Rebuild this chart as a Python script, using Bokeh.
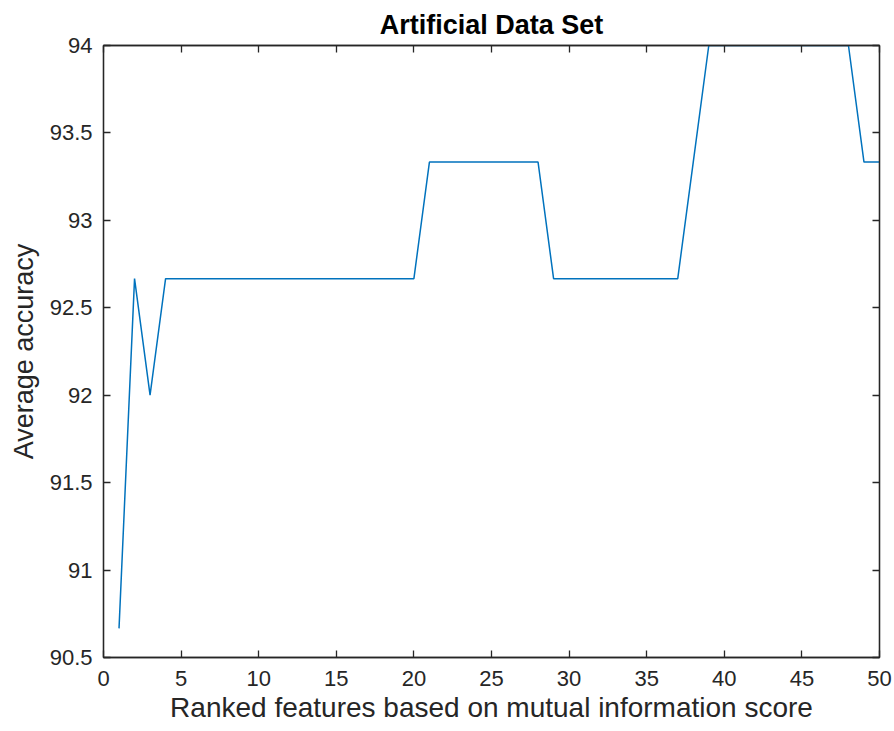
from bokeh.plotting import figure
from bokeh.models import Range1d, FixedTicker, LinearAxis
from bokeh.embed import file_html
from bokeh.resources import INLINE

# Number of top-ranked features used
n_features = list(range(1, 51))

# Average classification accuracy (%) for each feature count
avg_accuracy = [
    90.6667, 92.6667, 92.0000, 92.6667, 92.6667, 92.6667, 92.6667, 92.6667, 92.6667, 92.6667,
    92.6667, 92.6667, 92.6667, 92.6667, 92.6667, 92.6667, 92.6667, 92.6667, 92.6667, 92.6667,
    93.3333, 93.3333, 93.3333, 93.3333, 93.3333, 93.3333, 93.3333, 93.3333, 92.6667, 92.6667,
    92.6667, 92.6667, 92.6667, 92.6667, 92.6667, 92.6667, 92.6667, 93.3333, 94.0000, 94.0000,
    94.0000, 94.0000, 94.0000, 94.0000, 94.0000, 94.0000, 94.0000, 94.0000, 93.3333, 93.3333,
]

x_ticks = [0, 5, 10, 15, 20, 25, 30, 35, 40, 45, 50]
y_ticks = [90.5, 91.0, 91.5, 92.0, 92.5, 93.0, 93.5, 94.0]
y_tick_labels = ["90.5", "91", "91.5", "92", "92.5", "93", "93.5", "94"]

FONT = "Liberation Sans"
DARK = "#262626"

p = figure(
    width=894, height=731,
    x_range=Range1d(0, 50), y_range=Range1d(90.5, 94),
    output_backend="svg", toolbar_location=None,
    min_border_left=103, min_border_right=15,
    min_border_top=45, min_border_bottom=74,
    title="Artificial Data Set",
)
p.title.align = "center"
p.title.text_font = FONT
p.title.text_font_size = "27px"
p.title.text_font_style = "bold"
p.title.text_color = "#000000"
p.title.offset = 0
p.title.standoff = 12

p.xgrid.visible = False
p.ygrid.visible = False
p.outline_line_color = DARK
p.outline_line_width = 1.3
p.background_fill_color = "white"
p.border_fill_color = "white"


def style_axis(ax, ticks):
    ax.ticker = FixedTicker(ticks=ticks)
    ax.axis_line_color = DARK
    ax.axis_line_width = 1.3
    ax.major_tick_line_color = DARK
    ax.major_tick_line_width = 1.3
    ax.major_tick_in = 7
    ax.major_tick_out = 0
    ax.minor_tick_line_color = None
    ax.major_label_text_font = FONT
    ax.major_label_text_font_size = "22px"
    ax.major_label_text_color = DARK
    ax.axis_label_text_font = FONT
    ax.axis_label_text_font_style = "normal"
    ax.axis_label_text_color = DARK


style_axis(p.xaxis[0], x_ticks)
style_axis(p.yaxis[0], y_ticks)
p.xaxis[0].axis_label = "Ranked features based on mutual information score"
p.yaxis[0].axis_label = "Average accuracy"
p.xaxis[0].axis_label_text_font_size = "28px"
p.yaxis[0].axis_label_text_font_size = "27px"
p.xaxis[0].major_label_standoff = 13
p.xaxis[0].axis_label_standoff = 3
p.yaxis[0].major_label_standoff = 11
p.yaxis[0].axis_label_standoff = 8
p.yaxis[0].major_label_overrides = {t: s for t, s in zip(y_ticks, y_tick_labels)}

# Mirrored tick marks on the top and right edges of the box (no labels)
for side, ticks in (("above", x_ticks), ("right", y_ticks)):
    ax = LinearAxis()
    style_axis(ax, ticks)
    ax.major_label_text_color = None
    ax.major_label_text_font_size = "0px"
    ax.major_label_standoff = 0
    p.add_layout(ax, side)

p.line(n_features, avg_accuracy, line_color="#0072BD", line_width=1.5)

open("out.html", "w").write(file_html(p, INLINE))
